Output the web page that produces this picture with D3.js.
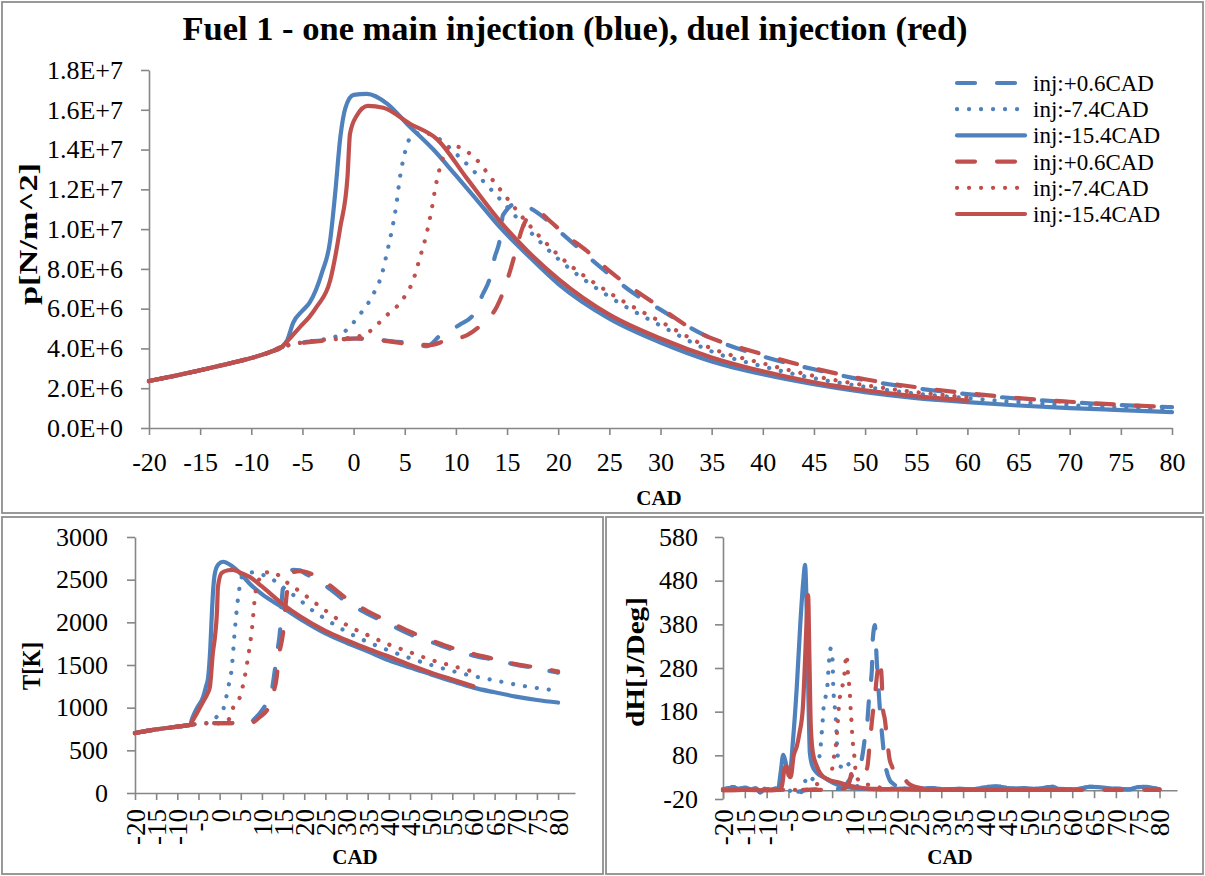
<!DOCTYPE html>
<html>
<head>
<meta charset="utf-8">
<script src="https://cdn.jsdelivr.net/npm/d3@7"></script>
<style>
  body { margin: 0; background: #fff; }
  svg { display: block; }
  text { font-family: "Liberation Serif", "Times New Roman", serif; fill: #000; }
</style>
</head>
<body>
<svg id="chart" width="1205" height="876"></svg>
<script>
// ---------- tick values ----------
const cadTicks = [-20,-15,-10,-5,0,5,10,15,20,25,30,35,40,45,50,55,60,65,70,75,80];
const pTicks = [0,2e6,4e6,6e6,8e6,1e7,1.2e7,1.4e7,1.6e7,1.8e7];
const tTicks = [0,500,1000,1500,2000,2500,3000];
const hTicks = [-20,80,180,280,380,480,580];
const legendLabels = ["inj:+0.6CAD","inj:-7.4CAD","inj:-15.4CAD","inj:+0.6CAD","inj:-7.4CAD","inj:-15.4CAD"];

// ---------- cylinder pressure [MPa] ----------
const pCompCad = [-20,-17.5,-15,-12.5,-10,-8,-7];
const pCompMPa = [2.36,2.62,2.9,3.2,3.52,3.85,4.08];

const pBlueDashCad = [-6,-5,-3,-1,0,2,4,5,6,7.2,8.5,10.4,11.7,12.6,13.3,13.8,14.3,14.6,16,17.9,20.2,24.1,27.3,30,33.9,40,45,50,55,60,65,70,75,80];
const pBlueDashMPa = [4.2,4.3,4.4,4.47,4.5,4.45,4.35,4.3,4.2,4.12,4.67,5.2,5.7,6.7,7.5,8.6,9.5,10.7,11.3,10.85,9.85,8.1,6.8,5.95,4.77,3.6,2.95,2.4,2.0,1.7,1.48,1.3,1.15,1.05];
const pBlueDotCad = [-6,-5,-4,-3,-2,-1,0.6,1.9,2.8,3.3,3.8,4.2,4.5,4.9,5.7,6.6,7.8,10.4,13.6,17,20,25,30,35,40,45,50,55,60,65,70,75,80];
const pBlueDotMPa = [4.2,4.3,4.38,4.45,4.55,4.8,5.7,6.7,7.8,8.9,10.1,11.3,12.5,13.6,14.7,14.85,14.7,13.6,11.9,10.0,8.5,6.6,5.15,3.85,3.1,2.5,2.07,1.73,1.5,1.3,1.15,1.03,0.92];
const pBlueSolidCad = [-6.5,-5.9,-5,-4.3,-3.1,-2.3,-1.8,-1.3,-0.8,0,1.3,3.3,5.2,7.8,10,12,14.3,17,20,25,30,35,40,45,50,55,60,65,70,75,80];
const pBlueSolidMPa = [4.4,5.3,5.9,6.3,7.8,9.4,11.8,14.6,16.1,16.75,16.8,16.3,15.3,14.0,12.7,11.5,10.1,8.7,7.25,5.5,4.3,3.35,2.7,2.2,1.8,1.5,1.3,1.13,1.0,0.9,0.8];
const pRedDashCad = [-6,-4.6,-2,0.3,2,4.2,6,7.5,9,11.1,12.5,14,14.6,15.3,15.8,16.5,17.2,18,19.2,20.5,22.8,25,29.3,33.2,40,45,50,55,60,65,70,75,80];
const pRedDashMPa = [4.2,4.3,4.42,4.5,4.45,4.3,4.2,4.17,4.4,4.67,5.2,6.1,6.8,7.9,8.8,10.05,10.7,10.85,10.4,9.8,8.9,7.9,6.3,4.95,3.7,3.0,2.45,2.05,1.75,1.5,1.32,1.17,1.05];
const pRedDotCad = [-6,-5,-3,-1,0,1.4,3.1,4.7,5.8,6.5,7.1,7.6,8,8.5,9.6,11.6,14,17,20,25,30,35,40,45,50,55,60];
const pRedDotMPa = [4.2,4.3,4.42,4.5,4.55,4.8,5.6,6.4,7.4,8.6,9.7,10.9,12.1,13.2,14.2,13.7,12.2,10.3,8.7,6.8,5.35,4.0,3.25,2.62,2.15,1.8,1.55];
const pRedSolidCad = [-6.5,-5.2,-4.3,-3.6,-2.3,-1.3,-0.6,-0.35,0.3,1.4,2.9,5.5,8.2,11,14.3,17,20,25,30,35,40,45,50,55,60];
const pRedSolidMPa = [4.35,5.1,5.6,6.1,7.4,10.1,12.6,14.8,15.7,16.2,16.1,15.3,14.5,12.6,10.4,8.9,7.5,5.7,4.5,3.55,2.85,2.3,1.9,1.6,1.38];

// ---------- gas temperature [K] ----------
const tCompCad = [-20,-17.5,-15,-12.5,-10,-8,-7];
const tCompK = [703,725,745,762,777,790,797];

const tBlueDashCad = [-6,-3,0,3,5,7,8,10.3,12.2,13,13.8,14.3,14.7,15,16,17.4,19,20,25,30,35,40,45,50,55,60,65,70,75,80];
const tBlueDashK = [805,815,820,820,815,810,855,990,1170,1420,1710,1910,2260,2415,2550,2615,2610,2580,2430,2240,2100,1980,1860,1770,1680,1610,1560,1505,1460,1410];
const tBlueDotCad = [-6,-5,-3,-1.6,0,0.8,2,2.9,3.6,4.4,5.5,7.9,10,12.6,15,19,21.4,25,30,35,40,45,50,55,60,65,70,75,80];
const tBlueDotK = [805,810,820,850,930,975,1230,1480,1910,2300,2555,2585,2560,2500,2410,2260,2160,2040,1890,1770,1670,1580,1500,1430,1370,1320,1270,1230,1200];
const tBlueSolidCad = [-6.5,-6,-5.3,-3.9,-3.2,-2.7,-2.2,-1.9,-1.5,-1.1,-0.3,0.8,3.2,7.9,10,15,20,25,30,35,40,45,50,55,60,65,70,75,80];
const tBlueSolidK = [870,930,1000,1125,1250,1360,1700,2030,2400,2580,2680,2710,2650,2415,2330,2170,2010,1870,1760,1660,1555,1470,1390,1310,1235,1180,1130,1090,1060];
const tRedDashCad = [-6,-3,0,3,5,7,8,9.5,11.5,12.5,13.5,13.9,15,15.9,16.5,17.5,19,20,25,30,35,40,45,50,55,60,65,70,75,80];
const tRedDashK = [805,815,820,820,815,810,830,890,1000,1150,1360,1560,1875,2345,2500,2590,2600,2595,2470,2280,2130,2010,1890,1790,1700,1630,1570,1510,1470,1425];
const tRedDotCad = [-6,-5,-3,0,2,3.2,4.8,6.5,7.7,8.4,9.5,10.3,12.6,15,19,25,30,35,40,45,50,55,60];
const tRedDotK = [805,810,815,815,850,1000,1125,1520,1950,2320,2520,2580,2590,2500,2360,2140,1970,1850,1740,1650,1560,1490,1420];
const tRedSolidCad = [-6.5,-6,-5.3,-3.9,-3,-2.3,-1.6,-1.1,-0.6,-0.4,0.5,2,3.2,5,7.2,10,15,19,25,30,35,40,45,50,55,60];
const tRedSolidK = [840,880,940,1070,1150,1240,1640,1830,2150,2415,2580,2610,2615,2580,2530,2420,2210,2070,1900,1790,1690,1600,1500,1410,1330,1250];

// ---------- heat release rate [J/deg] ----------
const hBlueLeadCad = [-20,-18.5,-17.7,-16.5,-15,-13.5,-12.5,-11.5,-10.5,-9,-8];
const hBlueLeadJ = [2,5,7,3,6,2,5,-5,3,1,4];
const hBlueTailCad = [22,25,28,31,34,37,40,42,44,46,49,52,55.5,57,60,62,64,66,68,71,73,75,77,78.5,80];
const hBlueTailJ = [4,3,5,2,3,2,7,9,7,4,5,3,8,3,2,4,8,7,5,3,2,7,8,5,2];
const hRedLeadCad = [-20,-15,-10,-7.5];
const hRedLeadJ = [0,1,0,1];

const hBlueDashCad = [-7,-5,-3,-1,1,3,5,7,8,9,10,10.7,11.5,12.1,12.5,13,13.6,14.1,14.3,14.8,15.2,15.5,15.9,16.4,17.1,18.2,19,20,21];
const hBlueDashJ = [2,1,-3,0,2,1,2,4,10,25,40,51,60,90,120,150,230,275,344,378,300,252,191,131,65,23,15,8,5];
const hBlueDotCad = [-7,-5,-4,-3,-2,-1.2,-0.8,0,1,1.8,2.36,2.58,2.8,2.96,3.57,3.96,4.1,4.7,5.1,5.25,5.63,5.86,6,6.17,6.8,7.5,8.4,9.2,10,11,12,15,19];
const hBlueDotJ = [2,1,-6,-5,-4,20,30,22,35,60,100,127,154,180,218,245,268,325,298,241,188,161,134,92,55,53,65,45,18,8,3,2,3];
const hBlueSolidCad = [-7.4,-6.8,-6.2,-5.8,-5.2,-4.7,-4,-3.1,-2.3,-1.6,-1.2,-0.8,-0.4,-0.1,0.5,1.5,3,5.2,7,10,13,16,19];
const hBlueSolidJ = [1,40,81,70,45,40,110,236,380,480,516,400,200,85,55,40,30,17,10,5,3,2,3];
const hRedDashCad = [-7,0,5,8,9,9.5,10,11,12,13,13.6,14.3,14.8,15.3,15.9,16.4,16.6,17.1,17.5,18.2,18.7,19.5,20.5,21.2,22.3,24,26,30,40,50,60,70,80];
const hRedDashJ = [1,1,1,5,20,40,35,45,40,50,105,175,215,265,298,246,190,161,125,69,55,35,28,30,17,8,4,2,1,1,1,1,1];
const hRedDotCad = [-7,-3,0,1.1,3,4.5,5.24,5.63,6,6.17,6.4,6.6,7.17,7.7,8.3,8.68,9.06,9.2,9.45,9.68,9.98,10.2,10.6,12,13.6,15,17,20,25,30,40,50,60];
const hRedDotJ = [1,1,2,12,18,30,63,92,115,142,168,200,230,257,310,260,223,193,155,115,92,62,31,15,12,8,5,3,2,1,1,1,1];
const hRedSolidCad = [-7,-6.5,-5.8,-5.4,-5,-4.5,-3.8,-3.1,-2.5,-1.7,-1.2,-0.8,-0.5,-0.2,0.1,0.6,1.5,2.2,4,6.8,9,12,15,20,30,40,50,60];
const hRedSolidJ = [1,10,53,55,35,30,80,100,130,190,300,400,447,300,150,85,55,40,25,17,10,5,3,2,1,1,1,1];

// ---------- helpers ----------
const zip = (xs, ys) => xs.map((x, i) => [x, ys[i]]);
const BLUE = "#4F81BD", RED = "#C0504D", AXIS = "#868686", FRAME = "#8E8E8E";
const dashes = { dash: "18 22", dot: "0.1 11.9", solid: null };
const plain = d => String(d);   // hyphen-minus, as in spreadsheet output

const pSeries = [
  { style: "dash",  color: BLUE, pts: zip(pCompCad, pCompMPa).concat(zip(pBlueDashCad, pBlueDashMPa)) },
  { style: "dot",   color: BLUE, pts: zip(pCompCad, pCompMPa).concat(zip(pBlueDotCad, pBlueDotMPa)) },
  { style: "solid", color: BLUE, pts: zip(pCompCad, pCompMPa).concat(zip(pBlueSolidCad, pBlueSolidMPa)) },
  { style: "dash",  color: RED,  pts: zip(pCompCad, pCompMPa).concat(zip(pRedDashCad, pRedDashMPa)) },
  { style: "dot",   color: RED,  pts: zip(pCompCad, pCompMPa).concat(zip(pRedDotCad, pRedDotMPa)) },
  { style: "solid", color: RED,  pts: zip(pCompCad, pCompMPa).concat(zip(pRedSolidCad, pRedSolidMPa)) }
].map(s => ({ ...s, pts: s.pts.map(([c, v]) => [c, v * 1e6]) }));

const tSeries = [
  { style: "dash",  color: BLUE, pts: zip(tCompCad, tCompK).concat(zip(tBlueDashCad, tBlueDashK)) },
  { style: "dot",   color: BLUE, pts: zip(tCompCad, tCompK).concat(zip(tBlueDotCad, tBlueDotK)) },
  { style: "solid", color: BLUE, pts: zip(tCompCad, tCompK).concat(zip(tBlueSolidCad, tBlueSolidK)) },
  { style: "dash",  color: RED,  pts: zip(tCompCad, tCompK).concat(zip(tRedDashCad, tRedDashK)) },
  { style: "dot",   color: RED,  pts: zip(tCompCad, tCompK).concat(zip(tRedDotCad, tRedDotK)) },
  { style: "solid", color: RED,  pts: zip(tCompCad, tCompK).concat(zip(tRedSolidCad, tRedSolidK)) }
];

const blueLead = zip(hBlueLeadCad, hBlueLeadJ), blueTail = zip(hBlueTailCad, hBlueTailJ), redLead = zip(hRedLeadCad, hRedLeadJ);
const hSeries = [
  { style: "dash",  color: BLUE, pts: blueLead.concat(zip(hBlueDashCad, hBlueDashJ), blueTail) },
  { style: "dot",   color: BLUE, pts: blueLead.concat(zip(hBlueDotCad, hBlueDotJ), blueTail) },
  { style: "solid", color: BLUE, pts: blueLead.concat(zip(hBlueSolidCad, hBlueSolidJ), blueTail) },
  { style: "dash",  color: RED,  pts: redLead.concat(zip(hRedDashCad, hRedDashJ)) },
  { style: "dot",   color: RED,  pts: redLead.concat(zip(hRedDotCad, hRedDotJ)) },
  { style: "solid", color: RED,  pts: redLead.concat(zip(hRedSolidCad, hRedSolidJ)) }
];

function sci(v) {
  if (v === 0) return "0.0E+0";
  const e = Math.floor(Math.log10(v) + 1e-9);
  return (v / Math.pow(10, e)).toFixed(1) + "E+" + e;
}

const svg = d3.select("#chart");
svg.append("rect").attr("width", 1205).attr("height", 876).attr("fill", "#fff");

// panel frames
[[2, 2, 1201, 511], [2, 517, 601, 357], [606, 517, 597, 357]].forEach(([x, y, w, h]) => {
  svg.append("rect").attr("x", x).attr("y", y).attr("width", w).attr("height", h)
    .attr("fill", "none").attr("stroke", FRAME).attr("stroke-width", 1.8);
});

function styleAxis(g) {
  g.select(".domain").attr("stroke", AXIS).attr("stroke-width", 1.6);
  g.selectAll(".tick line").attr("stroke", AXIS).attr("stroke-width", 1.6);
  g.selectAll(".tick text").attr("font-family", '"Liberation Serif", serif').attr("fill", "#000");
}

function drawLines(g, x, y, series) {
  const line = d3.line().x(d => x(d[0])).y(d => y(d[1])).curve(d3.curveMonotoneX);
  series.forEach(s => {
    g.append("path").datum(s.pts).attr("d", line)
      .attr("fill", "none").attr("stroke", s.color).attr("stroke-width", 4.2)
      .attr("stroke-linecap", "round").attr("stroke-linejoin", "round")
      .attr("stroke-dasharray", dashes[s.style]);
  });
}

function axisTitleY(x, yc, len, label) {
  svg.append("text").attr("transform", `translate(${x},${yc}) rotate(-90)`).attr("text-anchor", "middle")
    .attr("font-size", 25).attr("font-weight", "bold")
    .attr("textLength", len).attr("lengthAdjust", "spacingAndGlyphs").text(label);
}

// ================= pressure panel =================
{
  const x = d3.scaleLinear().domain([-20, 80]).range([149, 1172]);
  const y = d3.scaleLinear().domain([0, 1.8e7]).range([428, 70]);
  const gx = svg.append("g").attr("transform", "translate(0,428)")
    .call(d3.axisBottom(x).tickValues(cadTicks).tickSize(7).tickSizeOuter(0).tickPadding(18).tickFormat(plain));
  styleAxis(gx);
  gx.selectAll(".tick text").attr("font-size", 26);
  const gy = svg.append("g").attr("transform", "translate(149,0)")
    .call(d3.axisLeft(y).tickValues(pTicks).tickSize(8).tickSizeOuter(0).tickPadding(18).tickFormat(sci));
  styleAxis(gy);
  gy.selectAll(".tick text").attr("font-size", 26);

  drawLines(svg.append("g"), x, y, pSeries);

  svg.append("text").attr("x", 575).attr("y", 40).attr("text-anchor", "middle")
    .attr("font-size", 34.5).attr("font-weight", "bold")
    .text("Fuel 1 - one main injection (blue), duel injection (red)");
  svg.append("text").attr("x", 659).attr("y", 505).attr("text-anchor", "middle")
    .attr("font-size", 21).attr("font-weight", "bold").text("CAD");
  axisTitleY(37, 234, 142, "p[N/m^2]");

  // legend
  const lg = svg.append("g");
  pSeries.forEach((s, i) => {
    const yy = 83 + i * 26.2;
    lg.append("line").attr("x1", 957).attr("x2", 1025).attr("y1", yy).attr("y2", yy)
      .attr("stroke", s.color).attr("stroke-width", 4.2).attr("stroke-linecap", "round")
      .attr("stroke-dasharray", dashes[s.style]);
    lg.append("text").attr("x", 1033).attr("y", yy + 8).attr("font-size", 23).text(legendLabels[i]);
  });
}

function rotateXLabels(gx, offset) {
  gx.selectAll(".tick text")
    .attr("font-size", 27)
    .attr("y", 0).attr("x", 0).attr("dy", "0.35em")
    .attr("text-anchor", "end")
    .attr("transform", `translate(0,${offset}) rotate(-90)`);
}

// ================= temperature panel =================
{
  const x = d3.scaleLinear().domain([-20, 84]).range([135, 575]);
  const y = d3.scaleLinear().domain([0, 3000]).range([793, 537]);
  const gx = svg.append("g").attr("transform", `translate(0,${y(0)})`)
    .call(d3.axisBottom(x).tickValues(cadTicks).tickSize(7).tickSizeOuter(0).tickFormat(plain));
  styleAxis(gx);
  rotateXLabels(gx, 16);
  const gy = svg.append("g").attr("transform", "translate(135,0)")
    .call(d3.axisLeft(y).tickValues(tTicks).tickSize(8).tickSizeOuter(0).tickPadding(19).tickFormat(plain));
  styleAxis(gy);
  gy.selectAll(".tick text").attr("font-size", 26);

  drawLines(svg.append("g"), x, y, tSeries);

  svg.append("text").attr("x", 355).attr("y", 864).attr("text-anchor", "middle")
    .attr("font-size", 21).attr("font-weight", "bold").text("CAD");
  axisTitleY(40, 666, 48, "T[K]");
}

// ================= heat release panel =================
{
  const x = d3.scaleLinear().domain([-20, 84]).range([723, 1177]);
  const y = d3.scaleLinear().domain([-20, 580]).range([799, 537]);
  const gx = svg.append("g").attr("transform", `translate(0,${y(0)})`)
    .call(d3.axisBottom(x).tickValues(cadTicks).tickSize(8).tickSizeOuter(0).tickFormat(plain));
  styleAxis(gx);
  rotateXLabels(gx, 19);
  const gy = svg.append("g").attr("transform", "translate(723,0)")
    .call(d3.axisLeft(y).tickValues(hTicks).tickSize(8).tickSizeOuter(0).tickPadding(17).tickFormat(plain));
  styleAxis(gy);
  gy.selectAll(".tick text").attr("font-size", 26);

  drawLines(svg.append("g"), x, y, hSeries);

  svg.append("text").attr("x", 950).attr("y", 864).attr("text-anchor", "middle")
    .attr("font-size", 21).attr("font-weight", "bold").text("CAD");
  axisTitleY(644, 662, 130, "dH[J/Deg]");
}
</script>
</body>
</html>
